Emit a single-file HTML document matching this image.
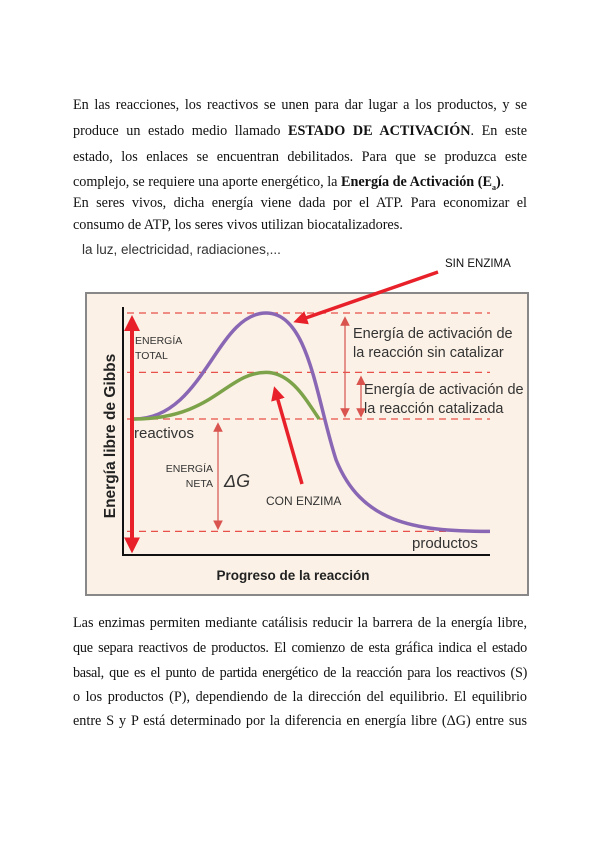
<!DOCTYPE html>
<html><head><meta charset="utf-8"><style>
body{margin:0;background:#fff;}
#page{position:relative;width:600px;height:848px;overflow:hidden;background:#fff;font-family:"Liberation Serif",serif;font-size:14.2px;color:#111;}
.ln{position:absolute;left:73px;width:454px;white-space:nowrap;text-align:justify;text-align-last:justify;height:18px;line-height:18px;}
.ln.last{text-align-last:left;}
svg{position:absolute;left:0;top:0;}
</style></head><body>
<div id="page">
<div class="ln" style="top:96px">En las reacciones, los reactivos se unen para dar lugar a los productos, y se</div>
<div class="ln" style="top:122px">produce un estado medio llamado <b>ESTADO DE ACTIVACIÓN</b>. En este</div>
<div class="ln" style="top:148px">estado, los enlaces se encuentran debilitados. Para que se produzca este</div>
<div class="ln last" style="top:173px">complejo, se requiere una aporte energético, la <b>Energía de Activación (E<sub style="font-size:8px">a</sub>)</b>.</div>
<div class="ln" style="top:194px">En seres vivos, dicha energía viene dada por el ATP. Para economizar el</div>
<div class="ln last" style="top:216px">consumo de ATP, los seres vivos utilizan biocatalizadores.</div>

<svg width="600" height="848" id="chart" font-family="Liberation Sans, sans-serif"></svg>

<div class="ln" style="top:614px">Las enzimas permiten mediante catálisis reducir la barrera de la energía libre,</div>
<div class="ln" style="top:639px;letter-spacing:-0.2px">que separa reactivos de productos. El comienzo de esta gráfica indica el estado</div>
<div class="ln" style="top:664px;letter-spacing:-0.3px">basal, que es el punto de partida energético de la reacción para los reactivos (S)</div>
<div class="ln" style="top:688px">o los productos (P), dependiendo de la dirección del equilibrio. El equilibrio</div>
<div class="ln" style="top:712px">entre S y P está determinado por la diferencia en energía libre (ΔG) entre sus</div>
</div>
<script>
const levelNames = ["reactivos","sinEnzima","conEnzima","productos"];
const levelValues = [0, 10, 4.4, -10.6];
const peakProgress = [0.39];

const svg = document.getElementById('chart');
const NS = 'http://www.w3.org/2000/svg';
const x0 = 123, x1 = 490;
function X(p){ return x0 + p*(x1-x0); }
function Y(e){ return 419 - e*10.6; }
function mk(tag, attrs, name, text){
  const el = document.createElementNS(NS, tag);
  for (const k in attrs) el.setAttribute(k, attrs[k]);
  
  
  if (text !== undefined) el.textContent = text;
  svg.appendChild(el);
  return el;
}
const yR = Y(levelValues[0]), yS = Y(levelValues[1]), yC = Y(levelValues[2]), yP = Y(levelValues[3]);
const xp = X(peakProgress[0]);

mk('text',{x:82,y:254,'font-size':13.5,fill:'#333'},'caption-text','la luz, electricidad, radiaciones,...');
mk('text',{x:445,y:267,'font-size':11.5,fill:'#111'},'sin-enzima-label','SIN ENZIMA');
mk('rect',{x:86,y:293,width:442,height:302,fill:'#fbf1e6',stroke:'#888','stroke-width':2},'chart-background');

[[yS,'dashed-line-sin-enzima'],[yC,'dashed-line-con-enzima'],[yR,'dashed-line-reactivos'],[yP,'dashed-line-productos']].forEach(d=>{
  mk('line',{x1:x0+4,y1:d[0],x2:x1,y2:d[0],stroke:'#e8504a','stroke-width':1.3,'stroke-dasharray':'7,5'},d[1]);
});
mk('line',{x1:x0,y1:307,x2:x0,y2:556,stroke:'#111','stroke-width':2},'y-axis');
mk('line',{x1:x0,y1:555,x2:x1,y2:555,stroke:'#111','stroke-width':2},'x-axis');
mk('text',{x:0,y:0,'font-size':15.5,'font-weight':'bold',fill:'#222',transform:'translate(115,436) rotate(-90)','text-anchor':'middle'},'y-axis-title','Energía libre de Gibbs');
mk('text',{x:293,y:580,'font-size':13.5,'font-weight':'bold',fill:'#222','text-anchor':'middle'},'x-axis-title','Progreso de la reacción');

const xs = X(0.03);
mk('path',{d:`M${xs},${yR} C${xs+70},${yR} ${xp-50},${yS} ${xp},${yS} C${xp+43},${yS} ${xp+50},${yR-20} ${xp+70},${yR+41} C${xp+95},${yP-10} ${xp+145},${yP} ${x1},${yP}`,fill:'none',stroke:'#8a67b4','stroke-width':3.5},'curve-sin-enzima');
mk('path',{d:`M${xs},${yR} C${xs+80},${yR} ${xp-40},${yC} ${xp},${yC} C${xp+25},${yC} ${xp+40},${yR-19} ${xp+53},${yR}`,fill:'none',stroke:'#7da34a','stroke-width':3.5},'curve-con-enzima');

mk('defs',{},'arrow-defs').innerHTML='<marker id="ah" markerWidth="4" markerHeight="4" refX="2" refY="2" orient="auto-start-reverse"><path d="M0,0 L4,2 L0,4z" fill="#e8202a"/></marker><marker id="ht" markerWidth="8" markerHeight="8" refX="4" refY="4" orient="auto-start-reverse"><path d="M0,0 L8,4 L0,8z" fill="#d9534f"/></marker>';
mk('line',{x1:132,y1:Y(levelValues[1])+10,x2:132,y2:yP+14,stroke:'#e8202a','stroke-width':4,'marker-start':'url(#ah)','marker-end':'url(#ah)'},'energia-total-arrow');
mk('line',{x1:345,y1:yS+8,x2:345,y2:yR-6,stroke:'#d9534f','stroke-width':1.2,'marker-start':'url(#ht)','marker-end':'url(#ht)'},'activation-sin-arrow');
mk('line',{x1:361,y1:yC+8,x2:361,y2:yR-6,stroke:'#d9534f','stroke-width':1.2,'marker-start':'url(#ht)','marker-end':'url(#ht)'},'activation-con-arrow');
mk('line',{x1:218,y1:yR+8,x2:218,y2:yP-6,stroke:'#d9534f','stroke-width':1.2,'marker-start':'url(#ht)','marker-end':'url(#ht)'},'delta-g-arrow');
mk('line',{x1:438,y1:272,x2:300,y2:320,stroke:'#e8202a','stroke-width':3.5,'marker-end':'url(#ah)'},'sin-enzima-pointer');
mk('line',{x1:302,y1:484,x2:276,y2:393,stroke:'#e8202a','stroke-width':3.5,'marker-end':'url(#ah)'},'con-enzima-pointer');

const lab=(x,y,s,t,n,extra)=>mk('text',Object.assign({x:x,y:y,'font-size':s,fill:'#333'},extra||{}),n,t);
lab(135,344,10.5,'ENERGÍA','energia-total-label-1');
lab(135,359,10.5,'TOTAL','energia-total-label-2');
lab(134,438,15,'reactivos','reactivos-label');
lab(213,472,10.5,'ENERGÍA','energia-neta-label-1',{'text-anchor':'end'});
lab(213,487,10.5,'NETA','energia-neta-label-2',{'text-anchor':'end'});
lab(224,487,18,'ΔG','delta-g-label',{'font-style':'italic'});
lab(266,505,12,'CON ENZIMA','con-enzima-label');
lab(353,338,14.5,'Energía de activación de','activation-sin-label-1');
lab(353,357,14.5,'la reacción sin catalizar','activation-sin-label-2');
lab(364,394,14.5,'Energía de activación de','activation-con-label-1');
lab(364,413,14.5,'la reacción catalizada','activation-con-label-2');
lab(412,548,15,'productos','productos-label');
</script>
</body></html>
